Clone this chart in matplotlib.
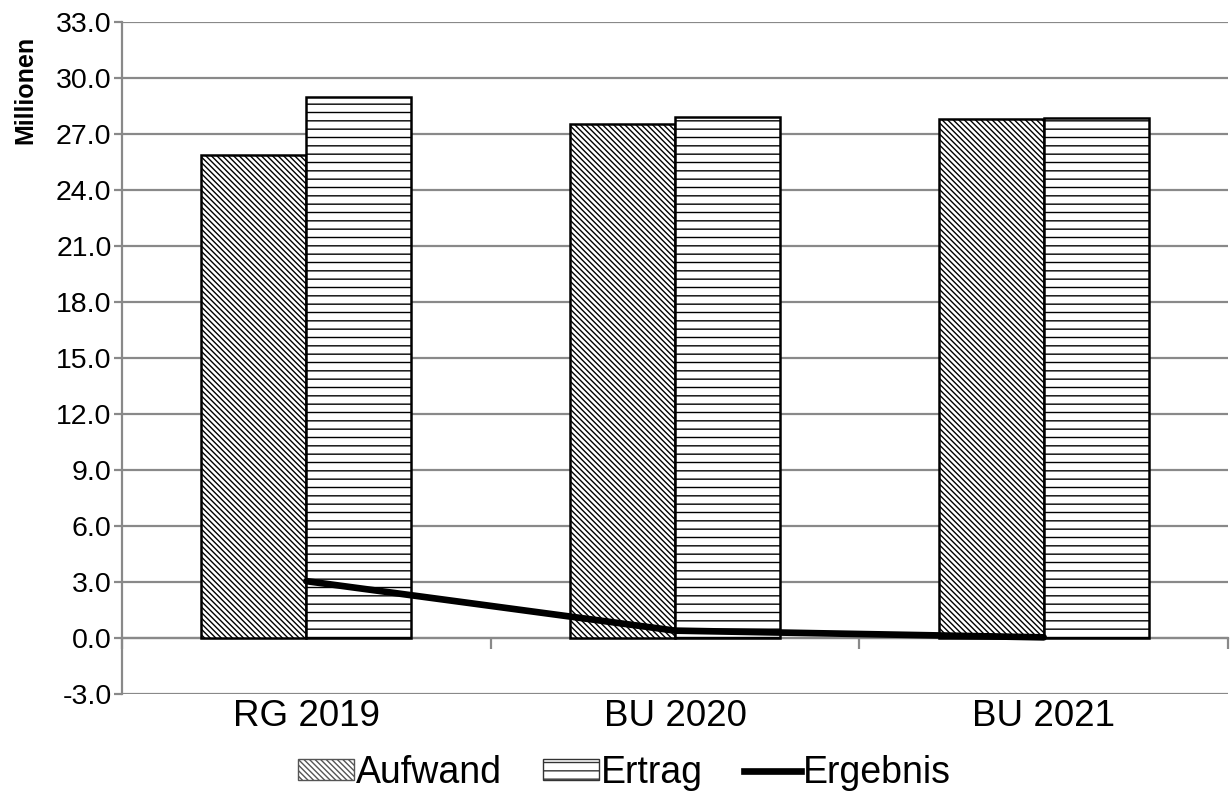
import matplotlib
matplotlib.use("Agg")
import matplotlib.pyplot as plt
import numpy as np
from matplotlib.patches import Patch
from matplotlib.lines import Line2D

categories = ["RG 2019", "BU 2020", "BU 2021"]
aufwand = [25.87, 27.55, 27.80]
ertrag = [28.98, 27.92, 27.85]
ergebnis = [3.05, 0.40, 0.04]
yticks = [-3.0, 0.0, 3.0, 6.0, 9.0, 12.0, 15.0, 18.0, 21.0, 24.0, 27.0, 30.0, 33.0]

plt.rcParams['font.family'] = ['Liberation Sans', 'DejaVu Sans']
plt.rcParams['hatch.linewidth'] = 1.0
plt.rcParams['hatch.color'] = '#404040'

fig = plt.figure(figsize=(12.31, 7.96), dpi=100)
ax = fig.add_axes([0.0991, 0.128, 0.8985, 0.8444])

diag = '\\' * 6
horiz = '--'

x = np.arange(len(categories)) + 0.5
w = 0.285
ax.bar(x - w / 2, aufwand, w, facecolor='white', edgecolor='black', linewidth=1.8,
       hatch=diag, zorder=3, label='Aufwand')
ax.bar(x + w / 2, ertrag, w, facecolor='white', edgecolor='black', linewidth=1.8,
       hatch=horiz, zorder=3, label='Ertrag')
ax.plot(x, ergebnis, color='black', linewidth=4.8, solid_capstyle='round', zorder=4,
        label='Ergebnis')

ax.set_xlim(0, len(categories))
ax.set_ylim(-3, 33)
ax.set_yticks(yticks)
ax.set_yticklabels([f"{v:.1f}" for v in yticks], fontsize=20.5)
ax.yaxis.grid(True, color='#898989', linewidth=1.6, zorder=0)
ax.set_axisbelow(True)

for s in ['top', 'right']:
    ax.spines[s].set_visible(False)
ax.spines['left'].set_color('#898989')
ax.spines['left'].set_linewidth(1.6)
ax.spines['bottom'].set_position(('data', 0))
ax.spines['bottom'].set_color('#898989')
ax.spines['bottom'].set_linewidth(1.6)
ax.spines['bottom'].set_zorder(2)

ax.set_xticks(np.arange(len(categories) + 1))
ax.set_xticklabels([])
ax.tick_params(axis='x', direction='out', length=8, width=1.6, color='#898989')
ax.tick_params(axis='y', direction='out', length=6, width=1.6, color='#898989', pad=1.5)

for xi, lab in zip(x, categories):
    ax.text(xi, -0.008, lab, transform=ax.get_xaxis_transform(), ha='center', va='top',
            fontsize=26.5)

fig.text(25 / 1231, 1 - 90 / 796, 'Millionen', rotation=90, ha='center', va='center',
         fontsize=18, fontweight='bold')

handles = [Patch(facecolor='white', edgecolor='#555555', hatch=diag, linewidth=1.0),
           Patch(facecolor='white', edgecolor='#333333', hatch=horiz, linewidth=1.0),
           Line2D([0], [0], color='black', linewidth=4.8)]
fig.legend(handles, ['Aufwand', 'Ertrag', 'Ergebnis'], loc='center', bbox_to_anchor=(0.507, 0.029),
           ncol=3, frameon=False, fontsize=27, handlelength=1.5, handleheight=0.45,
           handletextpad=0.05, columnspacing=1.1, borderpad=0.1)

fig.savefig('out.png', dpi=100)
